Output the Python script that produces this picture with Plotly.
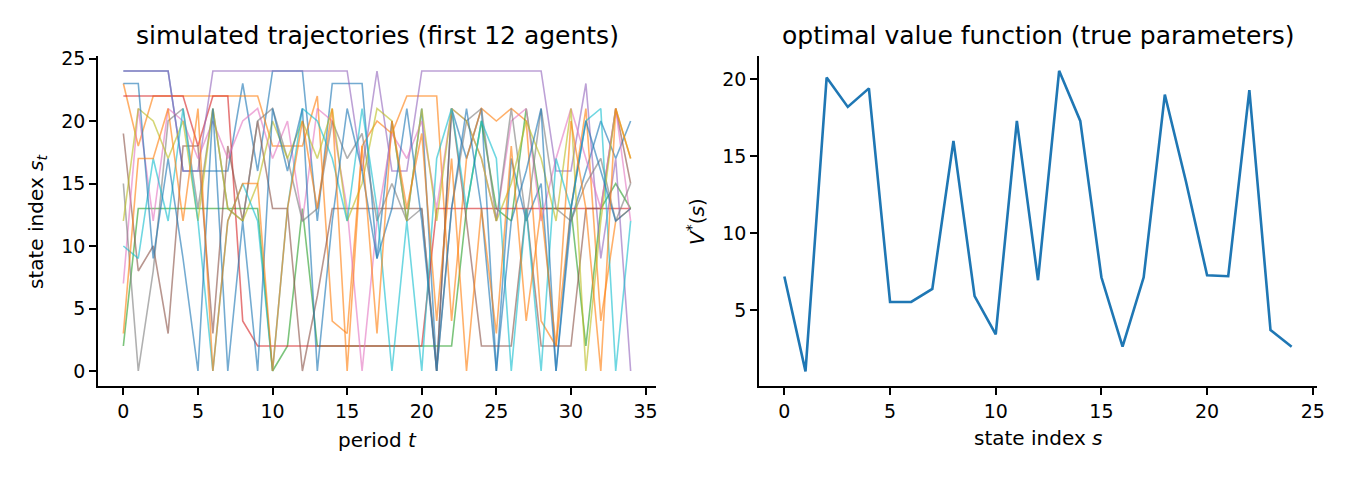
import plotly.graph_objects as go

periods = list(range(35))

agent_00 = [24,24,24,24,16,16,16,16,23,16,24,24,24,12,23,23,23,9,20,12,21,0,21,17,21,0,17,12,15,0,12,16,20,17,20]
agent_01 = [23,18,22,22,22,22,22,22,22,22,18,18,18,22,4,3,18,20,19,22,22,22,4,17,21,20,21,20,4,2,13,21,4,12,13]
agent_02 = [2,13,13,13,13,13,13,13,13,13,0,2,13,2,2,2,2,2,2,2,2,2,2,13,20,13,12,21,13,13,13,2,13,15,13]
agent_03 = [22,22,22,22,22,18,22,22,4,2,2,2,2,2,2,2,2,2,2,2,2,13,13,13,13,13,13,13,13,13,13,13,13,13,13]
agent_04 = [24,24,24,24,16,16,24,24,24,24,24,24,24,24,24,24,16,24,16,16,24,24,24,24,24,24,24,24,24,16,16,23,9,17,0]
agent_05 = [19,8,10,3,18,18,3,18,12,20,13,13,0,6,13,13,13,13,13,13,13,0,21,12,2,2,2,13,2,2,2,13,13,21,15]
agent_06 = [7,21,12,21,20,17,20,17,20,21,17,20,12,21,20,13,0,12,19,17,20,13,21,20,17,12,20,21,12,17,21,17,13,21,12]
agent_07 = [15,0,8,20,21,13,21,13,12,20,21,17,12,13,20,17,19,12,15,12,13,0,13,20,21,12,21,12,21,13,12,15,17,12,15]
agent_08 = [12,21,20,17,20,12,21,13,12,15,20,17,20,17,21,12,15,21,20,12,21,12,21,20,17,12,15,20,17,12,21,0,12,21,17]
agent_09 = [10,9,17,12,21,12,0,12,15,12,0,13,21,20,17,12,21,13,0,12,0,17,21,13,20,17,0,13,0,17,13,20,21,0,12]
agent_10 = [23,23,9,17,9,0,21,0,12,0,21,16,21,0,12,21,16,9,13,21,12,0,13,21,13,0,12,16,21,0,13,20,16,12,13]
agent_11 = [3,17,17,21,12,21,0,12,15,15,0,13,20,13,21,0,18,3,20,13,19,4,17,0,13,3,18,4,13,2,20,13,0,21,17]

agents = [agent_00, agent_01, agent_02, agent_03, agent_04, agent_05,
          agent_06, agent_07, agent_08, agent_09, agent_10, agent_11]

states = list(range(25))
value_fn = [7.2, 1.05, 20.1, 18.2, 19.4, 5.55, 5.55, 6.4, 16.0, 5.93, 3.45, 17.29, 6.96,
            20.54, 17.29, 7.15, 2.65, 7.15, 19.0, 13.36, 7.28, 7.22, 19.29, 3.73, 2.65]

x_ticks_left = [0, 5, 10, 15, 20, 25, 30, 35]
y_ticks_left = [0, 5, 10, 15, 20, 25]
x_ticks_right = [0, 5, 10, 15, 20, 25]
y_ticks_right = [5, 10, 15, 20]

tab10 = ["31,119,180", "255,127,14", "44,160,44", "214,39,40", "148,103,189",
         "140,86,75", "227,119,194", "127,127,127", "188,189,34", "23,190,207"]

fig = go.Figure()
for i, traj in enumerate(agents):
    fig.add_trace(go.Scatter(x=periods, y=traj, mode="lines",
                             line=dict(color="rgba(%s,0.62)" % tab10[i % 10], width=1.6),
                             xaxis="x", yaxis="y", showlegend=False, hoverinfo="skip"))

fig.add_trace(go.Scatter(x=states, y=value_fn, mode="lines",
                         line=dict(color="#1f77b4", width=2.6),
                         xaxis="x2", yaxis="y2", showlegend=False))

font = dict(family="DejaVu Sans", size=19, color="black")
axis_common = dict(showline=True, linecolor="black", linewidth=1.7, ticks="outside",
                   ticklen=7, tickwidth=1.7, tickcolor="black", showgrid=False,
                   zeroline=False, tickfont=font, automargin=False)

fig.update_layout(
    width=1350, height=480, margin=dict(l=0, r=0, t=0, b=0, autoexpand=False),
    paper_bgcolor="white", plot_bgcolor="white", font=font,
    xaxis=dict(domain=[98/1350, 656/1350], range=[-1.7, 35.7], tickmode="array",
               tickvals=x_ticks_left, anchor="y", **axis_common),
    yaxis=dict(domain=[94/480, 424/480], range=[-1.2, 25.2], tickmode="array",
               tickvals=y_ticks_left, anchor="x", **axis_common),
    xaxis2=dict(domain=[759/1350, 1317/1350], range=[-1.2, 25.2], tickmode="array",
                tickvals=x_ticks_right, anchor="y2", **axis_common),
    yaxis2=dict(domain=[94/480, 424/480], range=[0.1, 21.5], tickmode="array",
                tickvals=y_ticks_right, anchor="x2", **axis_common),
)

def ann(text, x, y, size=20, angle=0):
    fig.add_annotation(text=text, x=x/1350, y=1-y/480, xref="paper", yref="paper",
                       showarrow=False, xanchor="center", yanchor="middle",
                       textangle=angle, font=dict(family="DejaVu Sans", size=size, color="black"))

ann("simulated trajectories (first 12 agents)", 377, 36, size=25)
ann("optimal value function (true parameters)", 1038, 36, size=25)
ann("period <i>t</i>", 377, 440)
ann("state index <i>s</i>", 1038, 438)
ann("state index <i>s<sub>t</sub></i>", 37, 222, angle=-90)
ann("<i>V</i><sup>*</sup>(<i>s</i>)", 696, 222, angle=-90)

fig.write_html("out.html")
